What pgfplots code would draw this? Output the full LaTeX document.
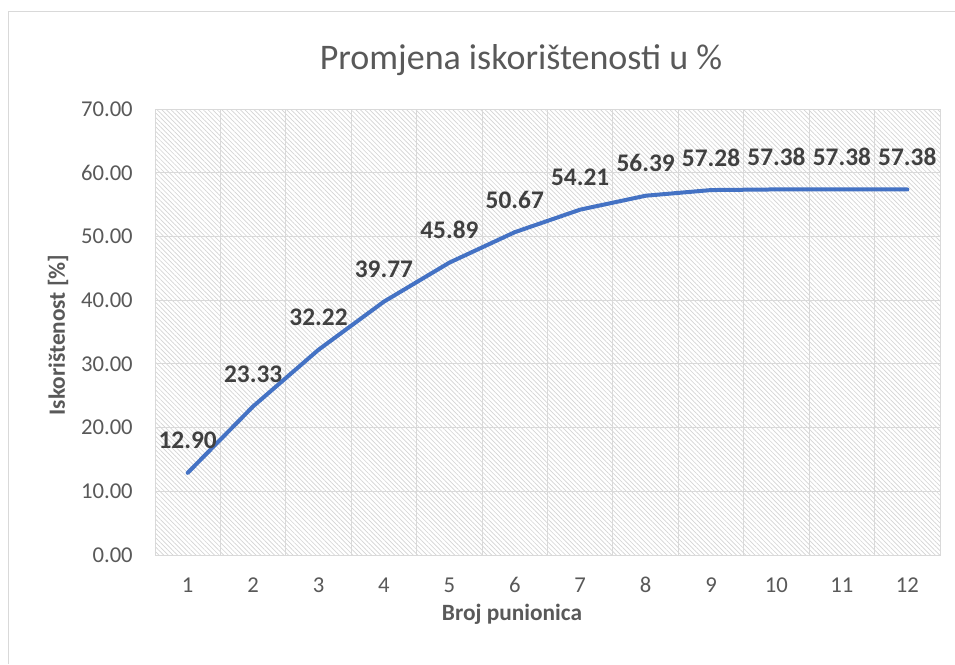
\documentclass[border=0pt]{standalone}
\usepackage{fontspec}
\setmainfont{Carlito}
\usepackage{pgfplots}
\pgfplotsset{compat=1.18}
\usetikzlibrary{patterns.meta}
\definecolor{gridc}{RGB}{217,217,217}
\definecolor{hatchc}{RGB}{212,212,212}
\definecolor{txtc}{RGB}{89,89,89}
\definecolor{lblc}{RGB}{64,64,64}
\definecolor{linec}{RGB}{68,114,196}
\begin{document}
\begin{tikzpicture}
\useasboundingbox (0,0) rectangle (716.25pt,-498pt);
\fill[white] (0,0) rectangle (716.25pt,-498pt);
\draw[gridc, line width=0.75pt] (6pt,-498pt) -- (6pt,-8.25pt) -- (716.25pt,-8.25pt);
\begin{axis}[
  at={(116.25pt,-416.25pt)}, anchor=south west,
  scale only axis, width=588.75pt, height=334.5pt,
  xmin=0.5, xmax=12.5, ymin=0, ymax=70,
  xtick={1,...,12}, ytick={0,10,...,70},
  minor xtick={0.5,1.5,...,12.5},
  major tick length=0pt, minor tick length=0pt,
  xmajorgrids=false, ymajorgrids=true, xminorgrids=true,
  major grid style={gridc, line width=0.75pt},
  minor grid style={gridc, line width=0.75pt},
  axis line style={gridc, line width=0.75pt},
  axis background/.style={pattern={Lines[angle=-45, distance=2.45pt, line width=0.5pt]}, pattern color=hatchc},
  tick label style={font=\fontsize{17}{20}\selectfont, text=txtc, inner sep=0pt},
  /pgf/number format/assume math mode=true,
  yticklabel style={anchor=east, xshift=-16.5pt, /pgf/number format/.cd, fixed, fixed zerofill, precision=2},
  xticklabel style={anchor=base, yshift=-27.75pt},
  clip=false,
  nodes near coords={\pgfmathprintnumber[fixed, fixed zerofill, precision=2]{\pgfplotspointmeta}},
  nodes near coords align={anchor=base, yshift=18pt},
  every node near coord/.append style={font=\fontsize{19}{22}\selectfont\bfseries, text=lblc, inner sep=0pt},
]
\addplot[color=linec, line width=3pt, line join=round, line cap=round, mark=none] coordinates {
  (1,12.90) (2,23.33) (3,32.22) (4,39.77) (5,45.89) (6,50.67)
  (7,54.21) (8,56.39) (9,57.28) (10,57.38) (11,57.38) (12,57.38)
};
\end{axis}
\node[font=\fontsize{27}{31}\selectfont, text=txtc] at (390.75pt,-45pt) {Promjena iskorištenosti u \%};
\node[font=\fontsize{17.5}{20}\selectfont\bfseries, text=txtc] at (384pt,-460.5pt) {Broj punionica};
\node[font=\fontsize{17.5}{20}\selectfont\bfseries, text=txtc, rotate=90] at (43.5pt,-251.25pt) {Iskorištenost [\%]};
\end{tikzpicture}
\end{document}
